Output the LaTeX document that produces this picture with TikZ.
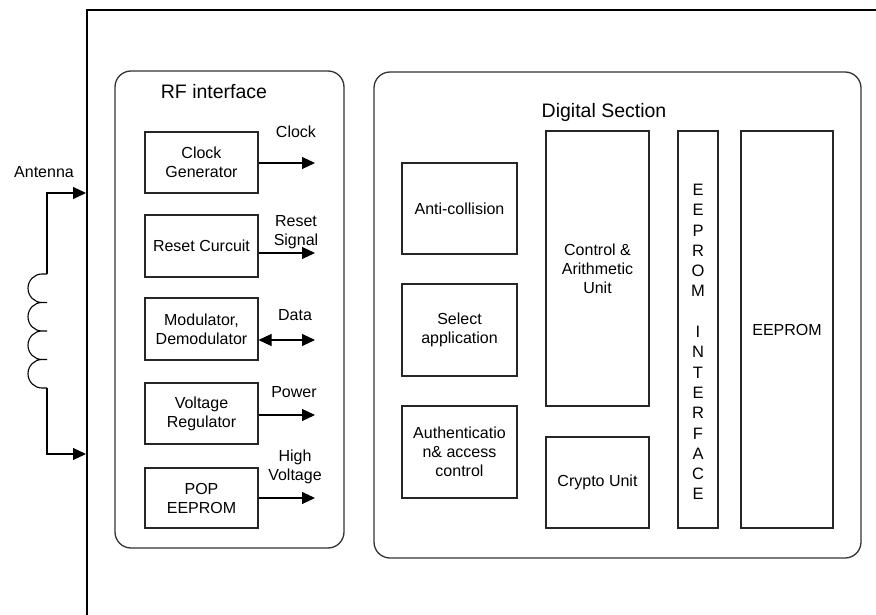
\documentclass[tikz,border=0pt]{standalone}
\usepackage{fontspec}
\setmainfont{Liberation Sans}
\usetikzlibrary{arrows.meta}
\newcommand\bxfont{\fontsize{16}{19}\selectfont}
\newcommand\ttlfont{\fontsize{19.5}{23}\selectfont}
\newcommand\colfont{\fontsize{16.5}{20.3}\selectfont}
\begin{document}
\begin{tikzpicture}[x=1pt,y=-1pt,
  blk/.style={draw=black!85, line width=1.1pt, rectangle, inner sep=0pt, align=center, font=\bxfont},
  grp/.style={draw=black!80, line width=1.3pt, rectangle, rounded corners=16pt, inner sep=0pt},
  lbl/.style={align=center, font=\bxfont, inner sep=0pt},
  ttl/.style={font=\ttlfont, inner sep=0pt},
  arr/.style={line width=1.1pt, -{Triangle[length=13pt,width=12pt]}},
  darr/.style={line width=1.1pt, {Triangle[length=13pt,width=12pt]}-{Triangle[length=13pt,width=12pt]}},
  framestyle/.style={line width=2pt},
  wire/.style={line width=1.1pt}]
\useasboundingbox (0,0) rectangle (876,615);

% outer frame
\coordinate (fbl) at (87,617);
\coordinate (ftl) at (87,10);
\coordinate (ftr) at (878,10);
\draw[framestyle] (fbl) -- (ftl) -- (ftr);

% antenna
\node[lbl] (antlbl) at (44,172) {Antenna};
\coordinate (ant1) at (86,193);
\coordinate (ant2) at (86,454);
\coordinate (w1) at (47,193);
\coordinate (w2) at (47,454);
\coordinate (c1) at (47,274);
\coordinate (c2) at (47,388);
\draw[arr] (c1) -- (w1) -- (ant1);
\draw[arr] (c2) -- (w2) -- (ant2);
\draw[wire] (c1)
  -- (42,274) arc[start angle=270,end angle=90,x radius=14,y radius=14.25] -- (47,302.5)
  -- (42,302.5) arc[start angle=270,end angle=90,x radius=14,y radius=14.25] -- (47,331)
  -- (42,331) arc[start angle=270,end angle=90,x radius=14,y radius=14.25] -- (47,359.5)
  -- (42,359.5) arc[start angle=270,end angle=90,x radius=14,y radius=14.25] -- (c2);

% RF interface
\node[grp, minimum width=229, minimum height=477] (rf) at (229.5,309.5) {};
\node[ttl] (rft) at (214,92) {RF interface};

\node[blk, minimum width=113, minimum height=61] (clk) at (201.5,162.5) {Clock\\Generator};
\node[blk, minimum width=113, minimum height=62] (rst) at (201.5,246) {Reset Curcuit};
\node[blk, minimum width=113, minimum height=62] (mod) at (201.5,329) {Modulator,\\Demodulator};
\node[blk, minimum width=113, minimum height=61] (vreg) at (201.5,413.5) {Voltage\\Regulator};
\node[blk, minimum width=113, minimum height=60] (pop) at (201.5,498) {POP\\EEPROM};

\coordinate (clkout) at (315,163);
\coordinate (rstout) at (315,253);
\coordinate (modout) at (315,340);
\coordinate (vregout) at (315,415);
\coordinate (popout) at (315,498);
\draw[arr] (clk.east |- clkout) -- (clkout);
\draw[arr] (rst.east |- rstout) -- (rstout);
\draw[darr] (mod.east |- modout) -- (modout);
\draw[arr] (vreg.east |- vregout) -- (vregout);
\draw[arr] (pop.east |- popout) -- (popout);

\node[lbl] (clkl) at (296,132) {Clock};
\node[lbl] (rstl) at (296,232.5) {Reset\\Signal};
\node[lbl] (modl) at (295,315) {Data};
\node[lbl] (vregl) at (294,392) {Power};
\node[lbl] (popl) at (295,467) {High\\Voltage};

% Digital section
\node[grp, minimum width=487, minimum height=486] (dig) at (617.5,315) {};
\node[ttl] (digt) at (604,112) {Digital Section};

\node[blk, minimum width=115, minimum height=91] (anti) at (459.5,208.5) {Anti-collision};
\node[blk, minimum width=115, minimum height=92] (sel) at (459.5,330) {Select\\application};
\node[blk, minimum width=115, minimum height=92] (auth) at (459.5,452) {Authenticatio\\n\& access\\control};
\node[blk, minimum width=103, minimum height=275] (cau) at (597.5,268.5) {Control \&\\Arithmetic\\Unit};
\node[blk, minimum width=103, minimum height=91] (cry) at (597.5,482.5) {Crypto Unit};
\node[blk, minimum width=40, minimum height=397] (eif) at (698,329.5) {};
\node[lbl, font=\colfont] (eift) at (698,342) {E\\E\\P\\R\\O\\M\\~\\I\\N\\T\\E\\R\\F\\A\\C\\E};
\node[blk, minimum width=92, minimum height=397] (eep) at (787,329.5) {EEPROM};

\end{tikzpicture}
\end{document}
